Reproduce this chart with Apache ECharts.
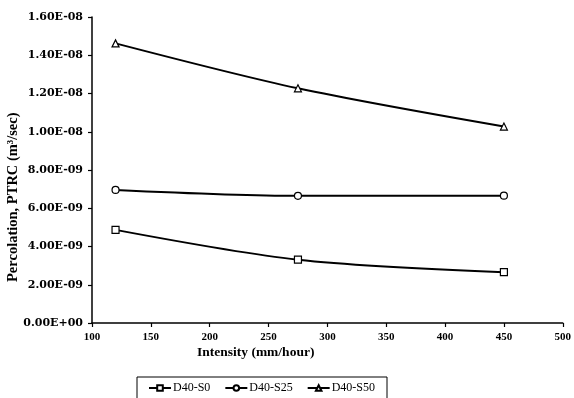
<!DOCTYPE html>
<html>
<head>
<meta charset="utf-8">
<script src="https://cdn.jsdelivr.net/npm/echarts@6/dist/echarts.min.js"></script>
<style>
  html, body { margin: 0; padding: 0; background: #fff; }
  #chart { width: 574px; height: 398px; }
</style>
</head>
<body>
<div id="chart"></div>
<script>
// intensity (mm/hour)
const intensity = [120, 275, 450];
// percolation PTRC (m3/sec)
const d40s0 = [4.87e-9, 3.31e-9, 2.66e-9];
const d40s25 = [6.96e-9, 6.65e-9, 6.66e-9];
const d40s50 = [14.62e-9, 12.27e-9, 10.27e-9];
const seriesNames = ['D40-S0', 'D40-S25', 'D40-S50'];

function sci(v) {
  // Excel style 1.60E-08
  let s = v.toExponential(2).toUpperCase();
  let parts = s.split('E');
  let exp = parseInt(parts[1], 10);
  let sign = exp < 0 ? '-' : '+';
  let e = Math.abs(exp);
  return parts[0] + 'E' + sign + (e < 10 ? '0' + e : e);
}

function pairs(ys) {
  return intensity.map((x, i) => [x, ys[i]]);
}

let myChart = echarts.init(document.getElementById('chart'));

let lineSeries = (name, data, symbol, size) => ({
  name: name,
  type: 'line',
  data: pairs(data),
  smooth: 0.3,
  symbol: symbol,
  symbolSize: size,
  lineStyle: { color: '#000', width: 2 },
  itemStyle: { color: '#fff', borderColor: '#000', borderWidth: 1.2 }
});

let option = {
  animation: false,
  backgroundColor: '#fff',
  grid: { left: 92, right: 7, top: 17, bottom: 75 },
  xAxis: {
    type: 'value',
    min: 100,
    max: 500,
    interval: 50,
    splitLine: { show: false },
    axisLine: { lineStyle: { color: '#000', width: 1.5 } },
    axisTick: { length: 4, lineStyle: { color: '#000', width: 1.2 } },
    axisLabel: { fontSize: 11, margin: 9, fontFamily: 'Liberation Serif', fontWeight: 'bold', color: '#000' }
  },
  yAxis: {
    type: 'value',
    min: 0,
    max: 1.6e-8,
    interval: 2e-9,
    splitLine: { show: false },
    axisLine: { show: true, lineStyle: { color: '#000', width: 1.5 } },
    axisTick: { show: true, length: 4, lineStyle: { color: '#000', width: 1.2 } },
    axisLabel: { fontSize: 11, margin: 9, formatter: sci, fontFamily: 'DejaVu Serif', fontWeight: 'bold', color: '#000' }
  },
  legend: {
    data: seriesNames,
    left: 137,
    top: 377,
    orient: 'horizontal',
    itemWidth: 22,
    itemHeight: 7,
    itemGap: 14,
    padding: [5, 12, 12, 11],
    borderColor: '#000',
    borderWidth: 1,
    textStyle: { fontFamily: 'Liberation Serif', fontSize: 12, color: '#000', padding: [0, 0, 0, -3] }
  },
  graphic: [
    {
      type: 'text',
      left: 197,
      top: 346,
      style: { text: 'Intensity (mm/hour)', font: 'bold 13.5px "Liberation Serif"', fill: '#000' }
    },
    {
      type: 'text',
      x: 6,
      y: 282,
      rotation: Math.PI / 2,
      style: { text: 'Percolation, PTRC (m³/sec)', font: 'bold 14.5px "Liberation Serif"', fill: '#000' }
    }
  ],
  series: [
    lineSeries(seriesNames[0], d40s0, 'rect', 7),
    lineSeries(seriesNames[1], d40s25, 'circle', 7),
    lineSeries(seriesNames[2], d40s50, 'triangle', 7)
  ]
};

myChart.setOption(option);
</script>
</body>
</html>
